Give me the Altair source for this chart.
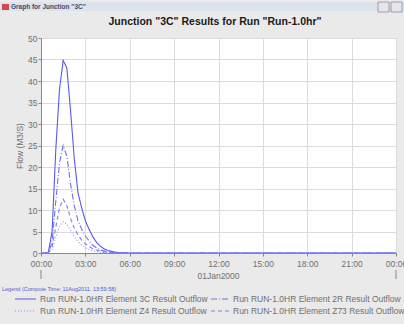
import altair as alt
import pandas as pd

# ---- data (hours since 01Jan2000 00:00, flow in M3/S) ----
hours = [0, 0.25, 0.5, 0.75, 1.0, 1.25, 1.5, 1.75, 2.0, 2.25, 2.5, 2.75,
         3.0, 3.25, 3.5, 3.75, 4.0, 4.25, 4.5, 5.0, 5.5, 6.0, 12.0, 18.0, 24.0]
flow_3c = [0, 0, 0.2, 5, 24, 38, 44.8, 43, 33, 22, 14, 10.5,
           7.5, 5.5, 3.8, 2.5, 1.6, 1.0, 0.6, 0.2, 0.05, 0, 0, 0, 0]
flow_2r = [0, 0, 0.1, 2.5, 12, 21, 25, 22.5, 16, 11, 7.5, 5.5,
           4.0, 2.8, 1.8, 1.2, 0.7, 0.5, 0.3, 0.1, 0.03, 0, 0, 0, 0]
flow_z4 = [0, 0, 0.05, 0.8, 3.5, 6.3, 7.3, 6.7, 5.3, 3.8, 2.7, 1.8,
           1.2, 0.8, 0.5, 0.35, 0.2, 0.12, 0.05, 0.02, 0, 0, 0, 0, 0]
flow_z73 = [0, 0, 0.05, 1.5, 6, 10.5, 12.5, 11, 8, 5.8, 4.2, 3.0,
            2.1, 1.5, 1.0, 0.7, 0.4, 0.25, 0.15, 0.05, 0.01, 0, 0, 0, 0]

series_names = [
    "Run RUN-1.0HR Element 3C Result Outflow",
    "Run RUN-1.0HR Element 2R Result Outflow",
    "Run RUN-1.0HR Element Z4 Result Outflow",
    "Run RUN-1.0HR Element Z73 Result Outflow",
]
series_values = [flow_3c, flow_2r, flow_z4, flow_z73]
series_colors = ["#5858ee", "#7070f0", "#9090f4", "#7c7cf2"]
series_dashes = [[1, 0], [6, 2, 1, 2], [1, 2], [4, 3]]

x_ticks = [0, 3, 6, 9, 12, 15, 18, 21, 24]
y_ticks = [0, 5, 10, 15, 20, 25, 30, 35, 40, 45, 50]
day_bounds = [0, 24]

rows = []
for name, vals in zip(series_names, series_values):
    for h, v in zip(hours, vals):
        rows.append({"hour": h, "flow": v, "series": name})
df = pd.DataFrame(rows)

FONT = "Liberation Sans"
W, H = 355, 215
LEFT, TOP = 41, 38
GREY = "#6f6f6f"

xscale = alt.Scale(domain=[0, 24], nice=False)
yscale = alt.Scale(domain=[0, 50], nice=False)
cscale = alt.Scale(domain=series_names, range=series_colors)
dscale = alt.Scale(domain=series_names, range=series_dashes)

legend_title = "Legend (Compute Time: 11Aug2011, 13:59:58)"

lines = alt.Chart(df).mark_line(strokeWidth=1.1, clip=True).encode(
    x=alt.X("hour:Q", scale=xscale,
            axis=alt.Axis(values=x_ticks, title=None, grid=True,
                          labelExpr="(datum.value % 24 < 10 ? '0' : '') + (datum.value % 24) + ':00'",
                          labelFontSize=8.5, labelColor=GREY, labelFont=FONT,
                          tickSize=3, labelPadding=3, labelFlush=False,
                          domainColor="#888888", tickColor="#888888",
                          gridColor="#dcdcdc")),
    y=alt.Y("flow:Q", scale=yscale,
            axis=alt.Axis(values=y_ticks, title="Flow (M3/S)", grid=True,
                          labelFontSize=8.5, labelColor=GREY, labelFont=FONT,
                          titleFontSize=8.5, titleColor=GREY, titleFont=FONT,
                          titleFontWeight="normal", titlePadding=3,
                          tickSize=3, labelPadding=1,
                          domainColor="#888888", tickColor="#888888",
                          gridColor="#dcdcdc")),
    color=alt.Color("series:N", scale=cscale, legend=None),
    strokeDash=alt.StrokeDash("series:N", scale=dscale, legend=None),
)

# ---- hand-built legend (2 columns, row-major) ----
leg_rows = []
for i, name in enumerate(series_names):
    col, row = i % 2, i // 2
    if col == 0:
        sx, sx2, tx = 15, 36, 40
    else:
        sx, sx2, tx = 211, 230, 233
    leg_rows.append({"series": name, "sx": sx - LEFT, "sx2": sx2 - LEFT,
                     "tx": tx - LEFT, "ty": 261 + 12 * row})
leg_df = pd.DataFrame(leg_rows)

leg_lines = alt.Chart(leg_df).mark_rule(strokeWidth=1.1).encode(
    x=alt.X("sx:Q", scale=None), x2="sx2:Q", y=alt.Y("ty:Q", scale=None),
    color=alt.Color("series:N", scale=cscale, legend=None),
    strokeDash=alt.StrokeDash("series:N", scale=dscale, legend=None),
)
leg_text = alt.Chart(leg_df).mark_text(
    font=FONT, fontSize=8.5, color=GREY, align="left", baseline="middle").encode(
    x=alt.X("tx:Q", scale=None), y=alt.Y("ty:Q", scale=None), text="series:N")

one = pd.DataFrame({"k": [0]})

day_ticks = alt.Chart(pd.DataFrame({"hour": day_bounds})).mark_rule(
    color="#888888", strokeWidth=1).encode(
    x=alt.X("hour:Q", scale=xscale),
    y=alt.value(232), y2=alt.value(241))

date_label = alt.Chart(one).mark_text(
    text="01Jan2000", font=FONT, fontSize=8.5, color=GREY, baseline="middle").encode(
    x=alt.value(W / 2), y=alt.value(238))

legend_head = alt.Chart(one).mark_text(
    text=legend_title, font=FONT, fontSize=5.5, color="#4a5fd0", align="left",
    baseline="middle").encode(x=alt.value(-39), y=alt.value(251))

main_title = alt.Chart(one).mark_text(
    text='Junction "3C" Results for Run "Run-1.0hr"', font=FONT, fontSize=10.5,
    fontWeight="bold", color="#1a1a1a", baseline="middle").encode(
    x=alt.value(174), y=alt.value(-16))

title_bar = alt.Chart(one).mark_rect(color="#dde3ec").encode(
    x=alt.value(-LEFT), x2=alt.value(404 - LEFT),
    y=alt.value(-TOP + 2), y2=alt.value(-TOP + 11))

win_title = alt.Chart(one).mark_text(
    text='Graph for Junction "3C"', font=FONT, fontSize=6.5, fontWeight="bold",
    color="#3a4a70", align="left", baseline="middle").encode(
    x=alt.value(-LEFT + 11), y=alt.value(-TOP + 7))

win_icon = alt.Chart(one).mark_rect(color="#d04848").encode(
    x=alt.value(-LEFT + 2), x2=alt.value(-LEFT + 9),
    y=alt.value(-TOP + 4), y2=alt.value(-TOP + 10))

btn1 = alt.Chart(one).mark_rect(color="#e6e6ea", stroke="#8a8aa0", strokeWidth=0.8).encode(
    x=alt.value(378 - LEFT), x2=alt.value(389 - LEFT),
    y=alt.value(-TOP + 2), y2=alt.value(-TOP + 12))
btn2 = alt.Chart(one).mark_rect(color="#e6e6ea", stroke="#8a8aa0", strokeWidth=0.8).encode(
    x=alt.value(391 - LEFT), x2=alt.value(402 - LEFT),
    y=alt.value(-TOP + 2), y2=alt.value(-TOP + 12))

chart = alt.layer(
    title_bar, win_icon, win_title, btn1, btn2, main_title,
    lines, day_ticks, date_label, legend_head, leg_lines, leg_text
).properties(
    width=W, height=H,
    autosize=alt.AutoSizeParams(type="none"),
    padding={"left": LEFT, "top": TOP, "right": 404 - LEFT - W, "bottom": 324 - TOP - H},
    background="#ebeaea",
).configure_view(
    fill="white", stroke="#888888", strokeWidth=1
)

chart.save("out.html", embed_options={"renderer": "svg", "actions": False})
